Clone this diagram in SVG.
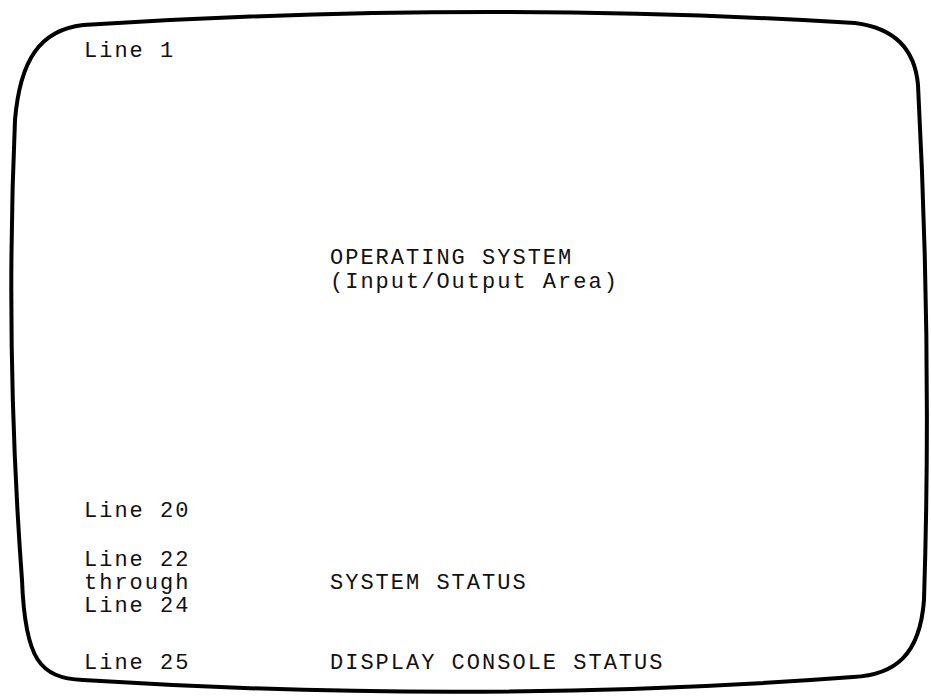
<svg xmlns="http://www.w3.org/2000/svg" width="931" height="697" viewBox="0 0 931 697">
<style>
.t{font-family:"Liberation Mono","Courier New",monospace;font-size:22px;letter-spacing:2px;fill:#111;}
.frame{fill:none;stroke:#000;stroke-width:4;stroke-linejoin:round;}
</style>
<rect width="931" height="697" fill="#fff"/>
<g id="screen">
<path class="frame" d="M 83,25 Q 480,0 855,23 C 895,28 915,50 918,85 Q 932,350 924,600 C 920,655 895,675 853,677 Q 480,705 83,680 C 40,678 25,660 22,580 Q 5,350 15,120 C 20,60 40,30 83,25 Z"/>
</g>
<g id="labels">
<text class="t" x="84" y="57">Line 1</text>
<text class="t" x="330" y="264">OPERATING SYSTEM</text>
<text class="t" x="330" y="288">(Input/Output Area)</text>
<text class="t" x="84" y="517">Line 20</text>
<text class="t" x="84" y="566">Line 22</text>
<text class="t" x="84" y="589">through</text>
<text class="t" x="84" y="612">Line 24</text>
<text class="t" x="330" y="589">SYSTEM STATUS</text>
<text class="t" x="84" y="669">Line 25</text>
<text class="t" x="330" y="669">DISPLAY CONSOLE STATUS</text>
</g>
</svg>
